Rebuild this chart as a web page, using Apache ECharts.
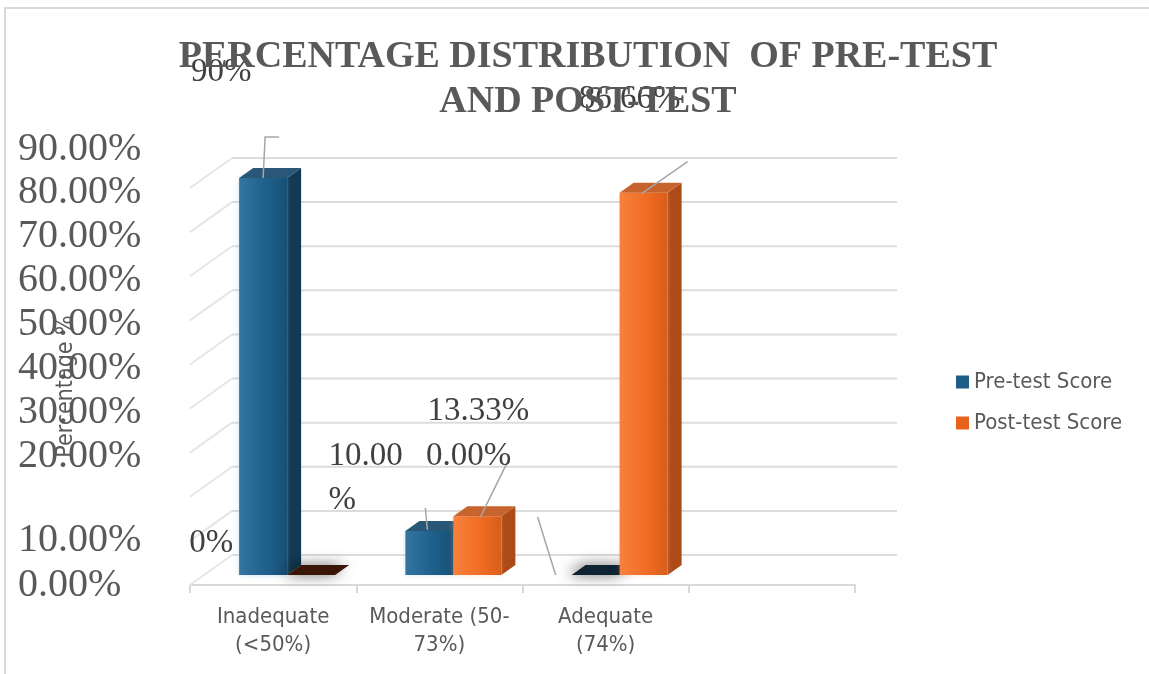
<!DOCTYPE html>
<html>
<head>
<meta charset="utf-8">
<script src="https://cdn.jsdelivr.net/npm/echarts@6/dist/echarts.min.js"></script>
<style>
  html, body { margin: 0; padding: 0; background: #ffffff; }
  #chart { width: 1149px; height: 674px; }
</style>
</head>
<body>
<div id="chart"></div>
<script>
// ---- data ----
const categories = ['Inadequate\n(<50%)', 'Moderate (50-\n73%)', 'Adequate\n(74%)', ''];
const seriesNames = ['Pre-test Score', 'Post-test Score'];
const preTest = [90, 10, 0];
const postTest = [0, 13.33, 86.66];
const preDecimals = [0, 2, 2];
const postDecimals = [0, 2, 2];
const yTicks = [0, 10, 20, 30, 40, 50, 60, 70, 80, 90];

// ---- 3D projection settings ----
const WALL_DX = 42, WALL_DY = 30;   // back wall depth
const BAR_DX = 14, BAR_DY = 10;     // bar depth (bars sit in the middle of the floor)
const BAR_W = 48;

const SERIF = "'Liberation Serif', 'Times New Roman', serif";
const SANS = "'DejaVu Sans Condensed', 'Liberation Sans Narrow', 'DejaVu Sans', sans-serif";

// label placement relative to the top-front centre of each bar
const preLabelLayout = [
  { dx: -42, dy: -106, leader: [[0, 0], [2, -41], [16, -41]] },
  { dx: -101, dy: -53, align: 'left', width: 82, leader: [[-4, -23], [-2, -1]] },
  { dx: -127, dy: -119, leader: [[-58, -58], [-40, 0]] }
];
const postLabelLayout = [
  { dx: -100, dy: -32 },
  { dx: 1, dy: -105, leader: [[3, 1], [31, -56]] },
  { dx: -14, dy: -93, leader: [[-2, 1], [44, -31]] }
];

const palette = {
  pre: {
    legend: '#1d5d87',
    front: ['#3474a0', '#1e5f8a', '#174f74'],
    side: '#123a55',
    top: '#2a5777',
    flat: '#0e2433',
    glow: 'rgba(120,180,220,0.45)'
  },
  post: {
    legend: '#e8621f',
    front: ['#f8813e', '#ef6b22', '#d85d1b'],
    side: '#ad4b18',
    top: '#c7632c',
    flat: '#3a1606',
    glow: 'rgba(250,170,110,0.4)'
  }
};

function tickText(value) {
  return value.toFixed(2) + '%';
}

function barSeries(name, values, decimals, side, colors, layout) {
  return {
    type: 'custom',
    name: name,
    coordinateSystem: 'cartesian2d',
    itemStyle: { color: colors.legend },
    data: values.map((v, i) => [i, v]),
    encode: { x: 0, y: 1 },
    z: 3,
    renderItem(params, api) {
      const i = api.value(0);
      const v = api.value(1);
      const base = api.coord([i, 0]);
      const top = api.coord([i, v]);
      const cx = base[0];
      const x0 = side === 0 ? cx + BAR_DX - BAR_W : cx + BAR_DX;
      const x1 = x0 + BAR_W;
      const yb = base[1] - BAR_DY;
      const yt = top[1] - BAR_DY;
      const children = [];
      const flat = yb - yt < 0.5;
      if (!flat) {
        children.push({
          type: 'polygon',
          shape: { points: [[x0, yt], [x1, yt], [x1, yb], [x0, yb]] },
          style: {
            fill: new echarts.graphic.LinearGradient(0, 0, 1, 0, [
              { offset: 0, color: colors.front[0] },
              { offset: 0.6, color: colors.front[1] },
              { offset: 1, color: colors.front[2] }
            ]),
            shadowBlur: 5,
            shadowColor: colors.glow
          },
          z2: 1
        });
        children.push({
          type: 'polygon',
          shape: { points: [[x1, yt], [x1 + BAR_DX, yt - BAR_DY], [x1 + BAR_DX, yb - BAR_DY], [x1, yb]] },
          style: { fill: colors.side },
          z2: 0
        });
      }
      children.push({
        type: 'polygon',
        shape: { points: [[x0, yt], [x1, yt], [x1 + BAR_DX, yt - BAR_DY], [x0 + BAR_DX, yt - BAR_DY]] },
        style: flat
          ? { fill: colors.flat, shadowBlur: 14, shadowOffsetX: -4, shadowColor: 'rgba(0,0,0,0.6)' }
          : { fill: colors.top },
        z2: 1
      });

      const L = layout[i];
      const ax = (x0 + x1) / 2;
      const ay = yt;
      if (L.leader) {
        children.push({
          type: 'polyline',
          shape: { points: L.leader.map(p => [ax + p[0], ay + p[1]]) },
          style: { stroke: '#a6a6a6', lineWidth: 1.5, fill: null },
          z2: 20
        });
      }
      const textStyle = {
        text: v.toFixed(decimals[i]) + '%',
        fill: '#404040',
        font: '33px ' + SERIF,
        align: L.align || 'center',
        verticalAlign: 'middle',
        lineHeight: 44
      };
      if (L.width) {
        textStyle.width = L.width;
        textStyle.overflow = 'breakAll';
      }
      children.push({ type: 'text', x: ax + L.dx, y: ay + L.dy, style: textStyle, z2: 30 });
      return { type: 'group', children: children };
    }
  };
}

// back wall gridlines and side-wall diagonals
const wallSeries = {
  type: 'custom',
  name: 'wall',
  coordinateSystem: 'cartesian2d',
  xAxisIndex: 0,
  yAxisIndex: 0,
  data: yTicks.map(v => [0, v]),
  encode: { x: 0, y: 1 },
  z: 1,
  silent: true,
  renderItem(params, api) {
    const cs = params.coordSys;
    const y = api.coord([0, api.value(1)])[1];
    return {
      type: 'group',
      children: [
        { type: 'line', shape: { x1: cs.x + WALL_DX, y1: y - WALL_DY, x2: cs.x + cs.width + WALL_DX, y2: y - WALL_DY }, style: { stroke: '#dcdcdc', lineWidth: 2 } },
        { type: 'line', shape: { x1: cs.x, y1: y, x2: cs.x + WALL_DX, y2: y - WALL_DY }, style: { stroke: '#e6e6e6', lineWidth: 2 } }
      ]
    };
  }
};

const tickFont = { fontFamily: SERIF, fontSize: 40, color: '#595959' };

const chart = echarts.init(document.getElementById('chart'), null, { renderer: 'canvas' });
chart.setOption({
  backgroundColor: '#ffffff',
  animation: false,
  title: {
    text: 'PERCENTAGE DISTRIBUTION  OF PRE-TEST\nAND POST-TEST',
    left: 583,
    top: 30,
    textAlign: 'center',
    textStyle: {
      fontFamily: SERIF,
      fontWeight: 'bold',
      fontSize: 38,
      lineHeight: 45,
      color: '#595959'
    }
  },
  graphic: [
    {
      type: 'rect',
      shape: { x: 5, y: 8, width: 1300, height: 800 },
      style: { fill: null, stroke: '#d9d9d9', lineWidth: 2 },
      silent: true
    }
  ],
  legend: {
    data: seriesNames,
    orient: 'vertical',
    left: 951,
    top: 366,
    icon: 'rect',
    itemWidth: 13,
    itemHeight: 13,
    itemGap: 19,
    textStyle: { fontFamily: SANS, fontSize: 22, color: '#595959' }
  },
  grid: [
    // plotting plane (bars, floor, walls)
    { left: 190, right: 294, top: 188, bottom: 89, containLabel: false },
    // upper tick-label column, spaced slightly tighter than the walls
    { left: 190, right: 294, top: 149, bottom: 130, containLabel: false }
  ],
  xAxis: [
    {
      type: 'category',
      gridIndex: 0,
      data: categories,
      axisLine: { show: true, lineStyle: { color: '#d9d9d9', width: 2 } },
      axisTick: { show: true, alignWithLabel: false, length: 8, lineStyle: { color: '#d9d9d9', width: 2 } },
      axisLabel: {
        interval: 0,
        margin: 18,
        fontFamily: SANS,
        fontSize: 22,
        lineHeight: 28,
        color: '#595959'
      },
      splitLine: { show: false }
    },
    { type: 'category', gridIndex: 1, data: categories, show: false }
  ],
  yAxis: [
    {
      type: 'value',
      gridIndex: 0,
      min: 0,
      max: 90,
      interval: 10,
      name: 'Percentage %',
      nameLocation: 'middle',
      nameGap: 112,
      nameRotate: 90,
      nameMoveOverlap: false,
      nameTextStyle: { fontFamily: SANS, fontSize: 23, color: '#595959' },
      axisLine: { show: false },
      axisTick: { show: false },
      splitLine: { show: false },
      axisLabel: Object.assign({
        align: 'left',
        margin: 172,
        formatter: v => (v < 20 ? tickText(v) : '')
      }, tickFont)
    },
    {
      type: 'value',
      gridIndex: 1,
      min: 0,
      max: 90,
      interval: 10,
      axisLine: { show: false },
      axisTick: { show: false },
      splitLine: { show: false },
      axisLabel: Object.assign({
        align: 'left',
        margin: 172,
        formatter: v => (v >= 20 ? tickText(v) : '')
      }, tickFont)
    }
  ],
  series: [
    wallSeries,
    barSeries(seriesNames[0], preTest, preDecimals, 0, palette.pre, preLabelLayout),
    barSeries(seriesNames[1], postTest, postDecimals, 1, palette.post, postLabelLayout)
  ]
});
</script>
</body>
</html>
